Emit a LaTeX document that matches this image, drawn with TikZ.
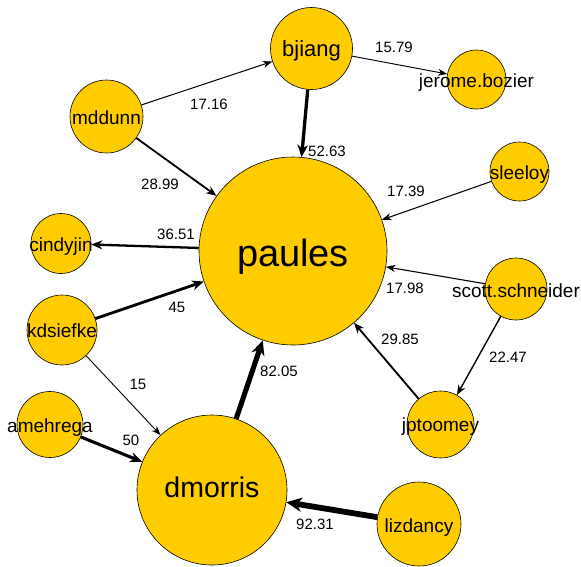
\documentclass[tikz,border=0pt]{standalone}
\usepackage{fontspec}
\setmainfont{Liberation Sans}
\usetikzlibrary{arrows.meta}
\definecolor{gold}{RGB}{255,204,0}
\tikzset{
  vtx/.style={circle, fill=gold, draw=black, line width=0.6pt, inner sep=0pt, minimum size=#1},
  vl/.style={font=\fontsize{19}{19}\selectfont, inner sep=0pt, anchor=base},
  el/.style={font=\fontsize{15}{15}\selectfont, inner sep=0pt},
  ed/.style={draw=black, line width=#1, -{Stealth[length=8pt 1.3, width=5.5pt 1.5, inset=2.5pt 0.4]}},
}
\begin{document}
\begin{tikzpicture}[x=1pt, y=-1pt]
\useasboundingbox (0,0) rectangle (581,566);
% nodes
\node[vtx=188pt] (paules) at (293,251) {};
\node[vtx=150pt] (dmorris) at (212,490) {};
\node[vtx=82pt] (bjiang) at (311.5,48.5) {};
\node[vtx=59pt] (jerome) at (476.5,79.5) {};
\node[vtx=73pt] (mddunn) at (106.5,116.5) {};
\node[vtx=59pt] (sleeloy) at (519.5,171.5) {};
\node[vtx=60pt] (cindyjin) at (61,243.5) {};
\node[vtx=62pt] (scott) at (516,289) {};
\node[vtx=70pt] (kdsiefke) at (62,330) {};
\node[vtx=67pt] (jptoomey) at (440.5,424.5) {};
\node[vtx=66pt] (amehrega) at (50,424.5) {};
\node[vtx=84pt] (lizdancy) at (419,524) {};
% edges
\draw[ed=1pt] (mddunn) -- (bjiang);
\draw[ed=0.95pt] (bjiang) -- (jerome);
\draw[ed=3.3pt] (bjiang) -- (paules);
\draw[ed=1.8pt] (mddunn) -- (paules);
\draw[ed=1.05pt] (sleeloy) -- (paules);
\draw[ed=2.3pt] (paules) -- (cindyjin);
\draw[ed=1.1pt] (scott) -- (paules);
\draw[ed=2.8pt] (kdsiefke) -- (paules);
\draw[ed=0.9pt] (kdsiefke) -- (dmorris);
\draw[ed=5.1pt] (dmorris) -- (paules);
\draw[ed=1.85pt] (jptoomey) -- (paules);
\draw[ed=1.4pt] (scott) -- (jptoomey);
\draw[ed=3.1pt] (amehrega) -- (dmorris);
\draw[ed=5.8pt] (lizdancy) -- (dmorris);
% vertex labels
\node[vl, font=\fontsize{38}{38}\selectfont] (tpaules) at (293,266) {paules};
\node[vl, font=\fontsize{28.5}{28.5}\selectfont] (tdmorris) at (212,497.5) {dmorris};
\node[vl, font=\fontsize{22}{22}\selectfont] (tbjiang) at (311.5,56) {bjiang};
\node[vl] (tjerome) at (476.5,87) {jerome.bozier};
\node[vl] (tmddunn) at (106.5,124) {mddunn};
\node[vl] (tsleeloy) at (519.5,179) {sleeloy};
\node[vl] (tcindyjin) at (61,251) {cindyjin};
\node[vl] (tscott) at (516,297) {scott.schneider};
\node[vl] (tkdsiefke) at (62,337) {kdsiefke};
\node[vl] (tjptoomey) at (440.5,431) {jptoomey};
\node[vl] (tamehrega) at (50,432.5) {amehrega};
\node[vl] (tlizdancy) at (419,532) {lizdancy};
% edge labels
\node[el] (l1) at (209,104) {17.16};
\node[el] (l2) at (394,47.5) {15.79};
\node[el] (l3) at (327,151) {52.63};
\node[el] (l4) at (160,184) {28.99};
\node[el] (l5) at (406,191) {17.39};
\node[el] (l6) at (176,234) {36.51};
\node[el] (l7) at (405,288) {17.98};
\node[el] (l8) at (177,307.5) {45};
\node[el] (l9) at (138,384) {15};
\node[el] (l10) at (279,371) {82.05};
\node[el] (l11) at (400,339) {29.85};
\node[el] (l12) at (508,357) {22.47};
\node[el] (l13) at (131,440) {50};
\node[el] (l14) at (315,524) {92.31};
\end{tikzpicture}
\end{document}
